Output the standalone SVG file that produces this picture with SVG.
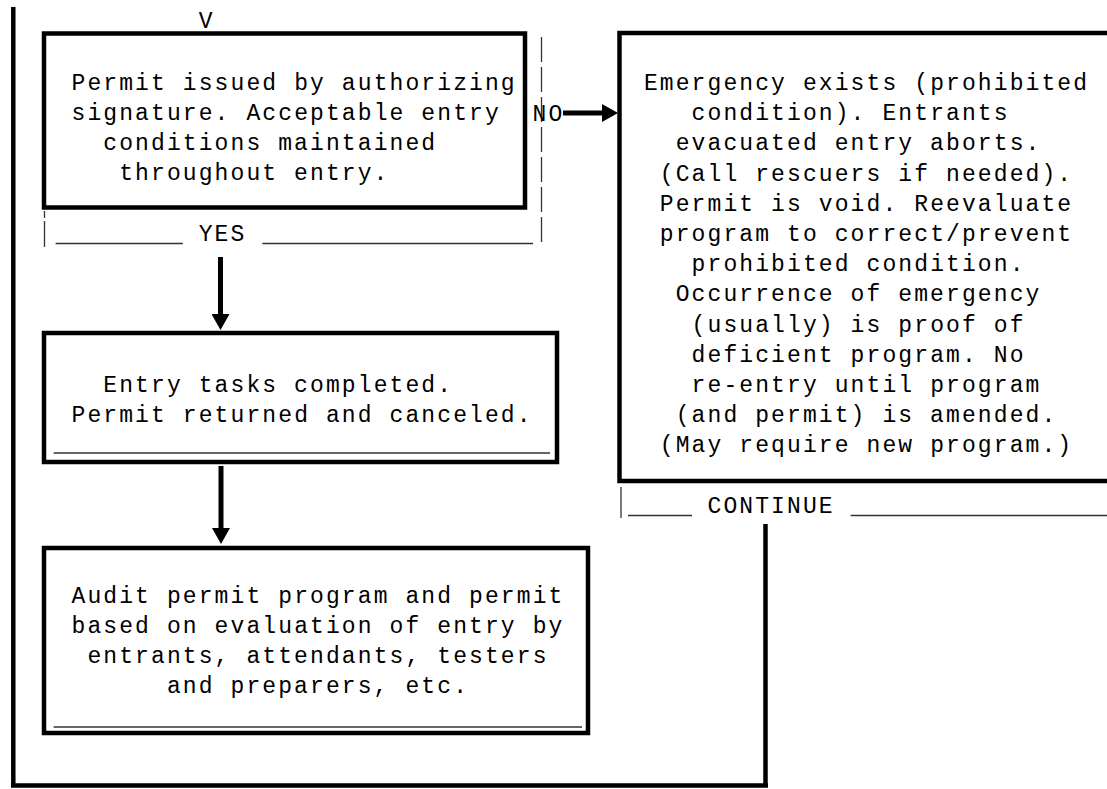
<svg xmlns="http://www.w3.org/2000/svg" width="1107" height="789" viewBox="0 0 1107 789">
<style>
.t{font-family:"Liberation Mono","DejaVu Sans Mono",monospace;font-size:23px;letter-spacing:2.1px;fill:#000}
.box{fill:none;stroke:#000;stroke-width:4.5}
.thin{stroke:#333;stroke-width:1.3;fill:none}
.flow{stroke:#000;stroke-width:4.5;fill:none}
.shaft{stroke:#000;stroke-width:5;fill:none;marker-end:url(#ah)}
</style>
<defs>
<marker id="ah" markerUnits="userSpaceOnUse" viewBox="0 0 16 18" refX="0" refY="9" markerWidth="16" markerHeight="18" orient="auto">
<path d="M0,0 L16,9 L0,18 z" fill="#000"/>
</marker>
</defs>
<rect width="1107" height="789" fill="#fff"/>

<g id="connectors">
<line class="flow" x1="13.3" y1="7" x2="13.3" y2="787"/>
<line class="flow" x1="11" y1="785.5" x2="768" y2="785.5"/>
<line class="flow" x1="765.5" y1="524" x2="765.5" y2="787"/>
<line class="thin" x1="541.5" y1="37" x2="541.5" y2="247" stroke-dasharray="25 5"/>
<line class="thin" x1="44.5" y1="211" x2="44.5" y2="247" stroke-dasharray="7 3 26 0"/>
<line class="thin" x1="55.6" y1="243.5" x2="182.8" y2="243.5"/>
<line class="thin" x1="262.3" y1="243.5" x2="533" y2="243.5"/>
<line class="thin" x1="621" y1="487" x2="621" y2="518"/>
<line class="thin" x1="628" y1="515.5" x2="692" y2="515.5"/>
<line class="thin" x1="850.6" y1="515.5" x2="1107" y2="515.5"/>
<line class="shaft" x1="563" y1="113" x2="602" y2="113"/>
<line class="shaft" x1="220.5" y1="257" x2="220.5" y2="314"/>
<line class="shaft" x1="221" y1="466" x2="221" y2="528"/>
<text class="t" x="198.7" y="28">V</text>
<text class="t" x="198.7" y="241">YES</text>
<text class="t" x="532.6" y="121">NO</text>
<text class="t" x="707.5" y="513">CONTINUE</text>
</g>

<g id="node-permit">
<rect class="box" x="44" y="33.5" width="481" height="174"/>
<text class="t" x="71.5" y="90">Permit issued by authorizing</text>
<text class="t" x="71.5" y="120">signature. Acceptable entry</text>
<text class="t" x="103.3" y="150">conditions maintained</text>
<text class="t" x="119.2" y="180">throughout entry.</text>
</g>

<g id="node-emergency">
<path class="box" d="M1110,33 H619.5 V481 H1110"/>
<text class="t" x="643.9" y="90">Emergency exists (prohibited</text>
<text class="t" x="691.6" y="120.2">condition). Entrants</text>
<text class="t" x="675.7" y="150.4">evacuated entry aborts.</text>
<text class="t" x="659.8" y="180.6">(Call rescuers if needed).</text>
<text class="t" x="659.8" y="210.8">Permit is void. Reevaluate</text>
<text class="t" x="659.8" y="241">program to correct/prevent</text>
<text class="t" x="691.6" y="271.2">prohibited condition.</text>
<text class="t" x="675.7" y="301.4">Occurrence of emergency</text>
<text class="t" x="691.6" y="331.6">(usually) is proof of</text>
<text class="t" x="691.6" y="361.8">deficient program. No</text>
<text class="t" x="691.6" y="392">re-entry until program</text>
<text class="t" x="675.7" y="422.2">(and permit) is amended.</text>
<text class="t" x="659.8" y="452.4">(May require new program.)</text>
</g>

<g id="node-tasks">
<rect class="box" x="44" y="333" width="513" height="129"/>
<line class="thin" x1="53.6" y1="453" x2="550" y2="453"/>
<text class="t" x="103.3" y="392">Entry tasks completed.</text>
<text class="t" x="71.5" y="422">Permit returned and canceled.</text>
</g>

<g id="node-audit">
<rect class="box" x="44" y="548" width="544" height="185"/>
<line class="thin" x1="53.6" y1="727" x2="582" y2="727"/>
<text class="t" x="71.5" y="603">Audit permit program and permit</text>
<text class="t" x="71.5" y="633">based on evaluation of entry by</text>
<text class="t" x="87.4" y="663">entrants, attendants, testers</text>
<text class="t" x="166.9" y="693">and preparers, etc.</text>
</g>
</svg>
